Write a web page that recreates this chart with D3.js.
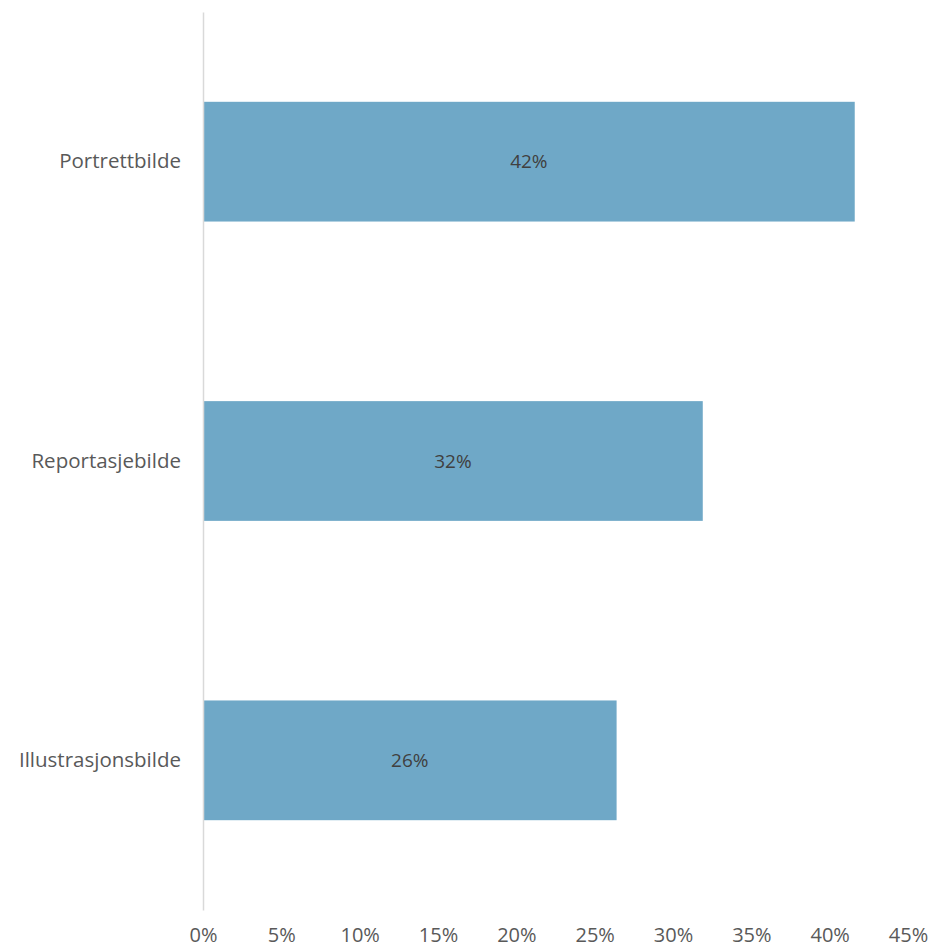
<!DOCTYPE html>
<html>
<head>
<meta charset="utf-8">
<script src="https://cdn.jsdelivr.net/npm/d3@7"></script>
<style>
    body { margin: 0; background: #fff; }
    text { font-family: 'Open Sans', 'Noto Sans', sans-serif; }
</style>
</head>
<body>
<svg width="933" height="951"></svg>
<script>
// Chart data
var categories = ['Portrettbilde', 'Reportasjebilde', 'Illustrasjonsbilde'];
var values = [41.6, 31.9, 26.4];
var valueLabels = ['42%', '32%', '26%'];
var tickValues = [0, 5, 10, 15, 20, 25, 30, 35, 40, 45];

var svg = d3.select('svg');

var padding = {t: 12, r: 25, b: 41, l: 203};
var svgWidth = +svg.attr('width');
var svgHeight = +svg.attr('height');

var xScale = d3.scaleLinear()
    .domain([0, 45])
    .range([padding.l, 908]);

var yScale = d3.scaleBand()
    .domain(categories)
    .range([padding.t, svgHeight - padding.b])
    .paddingInner(0.6)
    .paddingOuter(0.3);

var rows = categories.map(function(c, i) {
    return {name: c, value: values[i], label: valueLabels[i]};
});

// Bars
svg.selectAll('.bar')
    .data(rows)
    .enter().append('rect')
    .attr('class', 'bar')
    .attr('x', xScale(0))
    .attr('y', d => yScale(d.name))
    .attr('width', d => xScale(d.value) - xScale(0))
    .attr('height', yScale.bandwidth())
    .attr('fill', '#6fa8c7');

// Value labels inside bars
svg.selectAll('.value')
    .data(rows)
    .enter().append('text')
    .attr('class', 'value')
    .attr('x', d => (xScale(0) + xScale(d.value)) / 2)
    .attr('y', d => yScale(d.name) + yScale.bandwidth() / 2)
    .attr('dy', '0.35em')
    .attr('text-anchor', 'middle')
    .attr('fill', '#404040')
    .style('font-size', '19px')
    .text(d => d.label);

// Category axis (left)
var yAxis = d3.axisLeft(yScale).tickSize(0).tickPadding(22);
var yAxisG = svg.append('g')
    .attr('transform', 'translate(' + xScale(0) + ',0)')
    .call(yAxis);
yAxisG.select('.domain')
    .attr('stroke', '#d9d9d9')
    .attr('stroke-width', 1.5);
yAxisG.selectAll('text')
    .attr('fill', '#595959')
    .style('font-size', '20.5px');

// Value axis (bottom), labels only
var xAxis = d3.axisBottom(xScale)
    .tickValues(tickValues)
    .tickSize(0)
    .tickPadding(18)
    .tickFormat(d => d + '%');
var xAxisG = svg.append('g')
    .attr('transform', 'translate(0,' + (svgHeight - padding.b) + ')')
    .call(xAxis);
xAxisG.select('.domain').remove();
xAxisG.selectAll('text')
    .attr('fill', '#595959')
    .style('font-size', '20px');
</script>
</body>
</html>
